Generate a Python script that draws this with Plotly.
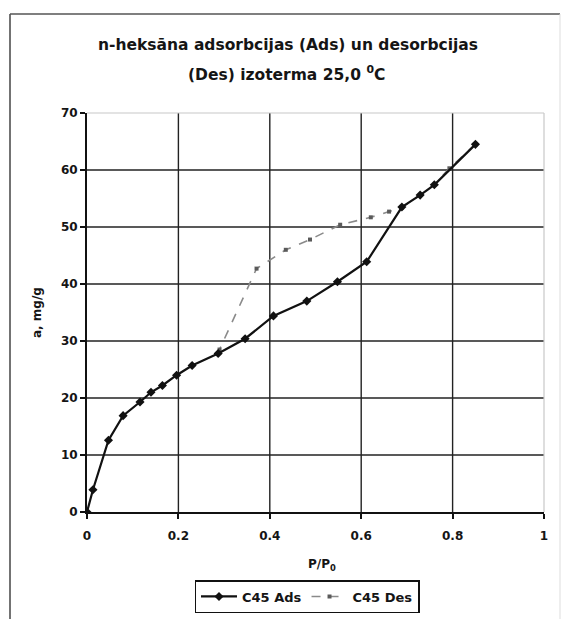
import plotly.graph_objects as go

# Adsorption (Ads) data
ads_x = [0, 0.013, 0.047, 0.079, 0.116, 0.140, 0.165, 0.196, 0.230, 0.287, 0.346, 0.408,
         0.481, 0.548, 0.612, 0.689, 0.729, 0.760, 0.850]
ads_y = [0, 3.9, 12.6, 16.9, 19.3, 21.0, 22.2, 24.0, 25.7, 27.8, 30.4, 34.4,
         37.0, 40.4, 43.9, 53.5, 55.6, 57.4, 64.5]

# Desorption (Des) data
des_x = [0.850, 0.793, 0.760, 0.729, 0.689, 0.661, 0.621, 0.554, 0.488, 0.435, 0.371, 0.290]
des_y = [64.5, 60.3, 57.4, 55.6, 53.4, 52.7, 51.7, 50.4, 47.8, 46.0, 42.7, 28.5]

x_ticks = [0, 0.2, 0.4, 0.6, 0.8, 1]
x_tick_text = ["0", "0.2", "0.4", "0.6", "0.8", "1"]
y_ticks = [0, 10, 20, 30, 40, 50, 60, 70]

title_line1 = "n-heksāna adsorbcijas (Ads) un desorbcijas"
title_line2 = "(Des) izoterma 25,0 <sup>0</sup>C"
x_title = "P/P<sub>0</sub>"
y_title = "a, mg/g"
ads_name = "C45 Ads"
des_name = "C45 Des"

FONT = "DejaVu Sans, Liberation Sans, Arial, sans-serif"
INK = "#151515"

fig = go.Figure()
fig.add_trace(go.Scatter(
    x=des_x, y=des_y, mode="lines+markers", name=des_name, legendrank=2,
    line=dict(color="#8a8a8a", width=1.6, dash="dash"),
    marker=dict(symbol="square", size=4, color="#5a5a5a"),
))
fig.add_trace(go.Scatter(
    x=ads_x, y=ads_y, mode="lines+markers", name=ads_name, legendrank=1,
    line=dict(color="#111111", width=2.2),
    marker=dict(symbol="diamond", size=7, color="#111111"),
))

shapes = []
# interior gridlines (dark)
for xv in x_ticks[1:-1]:
    shapes.append(dict(type="line", xref="x", yref="paper", x0=xv, x1=xv, y0=0, y1=1,
                       line=dict(color="#222222", width=1.4), layer="below"))
for yv in y_ticks[1:-1]:
    shapes.append(dict(type="line", xref="paper", yref="y", x0=0, x1=1, y0=yv, y1=yv,
                       line=dict(color="#222222", width=1.6), layer="below"))
# faint top / right edge of plot area
shapes.append(dict(type="line", xref="paper", yref="paper", x0=0, x1=1, y0=1, y1=1,
                   line=dict(color="#c8c8c8", width=1.2), layer="below"))
shapes.append(dict(type="line", xref="paper", yref="paper", x0=1, x1=1, y0=0, y1=1,
                   line=dict(color="#c8c8c8", width=1.2), layer="below"))
# outer chart frame (paper coords derived from pixel layout)
W, H, L, T, B, R = 565, 619, 87, 113, 107, 21
pw, ph = W - L - R, H - T - B
def px(xp): return (xp - L) / pw
def py(yp): return (H - B - yp) / ph
shapes.append(dict(type="line", xref="paper", yref="paper", x0=px(10), x1=px(10), y0=py(14), y1=py(619),
                   line=dict(color="#444444", width=1.5)))
shapes.append(dict(type="line", xref="paper", yref="paper", x0=px(10), x1=px(560), y0=py(14), y1=py(14),
                   line=dict(color="#555555", width=1.5)))
shapes.append(dict(type="line", xref="paper", yref="paper", x0=px(560), x1=px(560), y0=py(14), y1=py(619),
                   line=dict(color="#dddddd", width=1)))

def ann(text, x, y, size, angle=0):
    return dict(text=text, x=px(x), y=py(y), xref="paper", yref="paper", showarrow=False,
                xanchor="center", yanchor="middle", textangle=angle,
                font=dict(family=FONT, size=size, color=INK, weight="bold"))

annotations = [
    ann(title_line1, 288, 45, 15.5),
    ann(title_line2, 286, 73, 15.5),
    ann(y_title, 37, 313, 12, -90),
    ann(x_title, 322, 565, 12),
]

tickfont = dict(family=FONT, size=12, color=INK, weight="bold")

fig.update_layout(
    width=W, height=H,
    margin=dict(l=L, r=R, t=T, b=B, autoexpand=False),
    paper_bgcolor="white", plot_bgcolor="white",
    font=dict(family=FONT, color=INK),
    showlegend=True,
    legend=dict(orientation="h", x=px(307), y=py(580), xanchor="center", yanchor="top",
                bordercolor="#111111", borderwidth=1.5, bgcolor="white",
                font=dict(family=FONT, size=13, color=INK, weight="bold"),
                itemwidth=36, tracegroupgap=0),
    shapes=shapes,
    annotations=annotations,
    xaxis=dict(range=[0, 1], tickvals=x_ticks, ticktext=x_tick_text, showgrid=False, zeroline=False,
               showline=True, linecolor="#111111", linewidth=2, ticks="outside", ticklen=5,
               tickcolor="#111111", tickwidth=1.5, ticklabelstandoff=7, automargin=False,
               tickfont=tickfont),
    yaxis=dict(range=[0, 70], tickvals=y_ticks, showgrid=False, zeroline=False,
               showline=True, linecolor="#111111", linewidth=2, ticks="outside", ticklen=5,
               tickcolor="#111111", tickwidth=1.5, automargin=False,
               tickfont=tickfont),
)

fig.write_html("out.html")
